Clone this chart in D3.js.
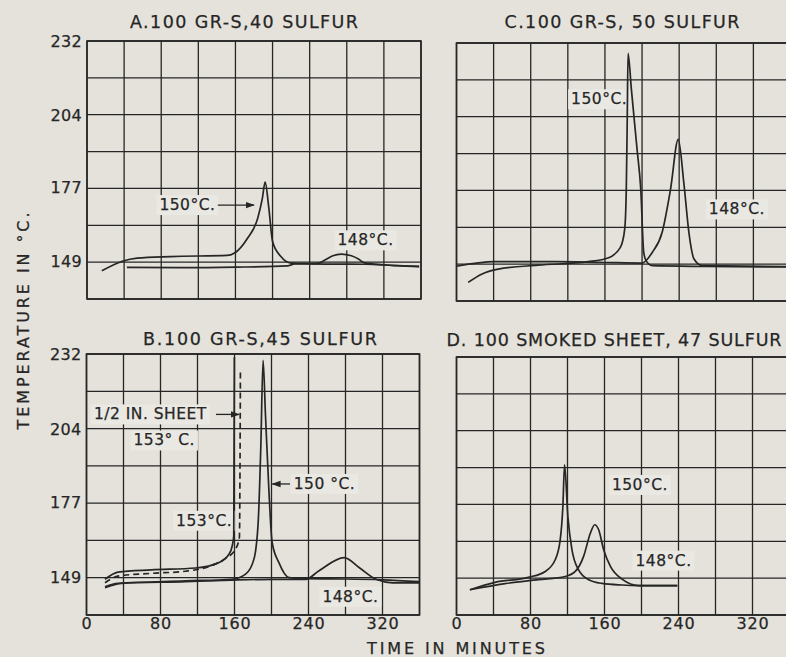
<!DOCTYPE html>
<html>
<head>
<meta charset="utf-8">
<title>cure temperatures</title>
<style>
  body { margin: 0; background: #e4e2da; }
  svg { display: block; }
  text { font-family: "DejaVu Sans", sans-serif; fill: #262626; stroke: #262626; stroke-width: 0.25; }
</style>
</head>
<body>
<script src="https://cdn.jsdelivr.net/npm/d3@7/dist/d3.min.js"></script>
<script>

// axis ticks
var xTicks = [0, 80, 160, 240, 320];
var yTicks = [149, 177, 204, 232];

// A. 100 GR-S, 40 sulfur  -- [minutes, deg C]
var a150 = [[16,145.6],[38,149.2],[54,150.4],[90,151],[151,151.4],[159,152.3],[173,157.9],[184,165.4],[189,172.9],[192,179],
            [196,169.2],[200,156.7],[209,151],[220,148.5],[240,148.2],[300,148.1],[330,147.6],[358,147.2]];
var a148 = [[43,146.9],[100,146.8],[160,147],[216,147.5],[224,148.2],[249,148.4],[256,149.6],[265,151.3],[274,151.9],
            [285,151.3],[293,150],[299,148.6],[320,147.9],[358,147.3]];

// B. 100 GR-S, 45 sulfur
var b153 = [[20,148.3],[34,151],[70,151.8],[118,152.5],[143,154.5],[154,157.6],[157.5,160.7],[159.2,164.5],[159.9,231]];
var b153half = [[20,147],[34,149.5],[70,150.5],[107,151.3],[136,153.5],[150,156],[161,159.5],[165.3,163.9],[166.4,226]];
var b150 = [[20,145.5],[34,146.8],[107,147.7],[157,148.3],[172,150.2],[181,155.8],[185.6,169.5],[188.4,197],[190.9,229.8],
            [193.5,209.4],[197.1,182],[200.7,162],[208,154.5],[219,148.9],[237,148.5],[280,148.4],[320,148.1],[360,147.4]];
var b148 = [[20,145.2],[38,146.8],[107,147.4],[157,148],[201,148.3],[237,148.3],[251,151.4],[278.5,156.4],[295,152.6],
            [313,148.3],[331,147],[360,147]];

// C. 100 GR-S, 50 sulfur
var c150 = [[12.6,142],[27,145.1],[45,147],[88,148.5],[142,149.8],[164,151.3],[176.6,155.2],[181.3,162.1],[183,177.1],
            [184,202.2],[184.9,228.3],[188.5,214.7],[194.6,192.2],[198.6,177.1],[201.8,153.3],[204.3,150.2],[211,148.3],
            [268,148],[357,147.8]];
var c148 = [[0,148.1],[41,149.8],[106,149.8],[160,149.5],[200,149.3],[211,153.3],[221.6,160.8],[230.7,177.1],[239,195.9],
            [245,179.6],[250.5,160.8],[256,150.8],[265,148.3],[357,148]];

// D. 100 smoked sheet, 47 sulfur
var d150 = [[14.5,144.5],[41.6,147.3],[77.8,149.2],[95.9,151.4],[106.7,155.8],[112.1,163.3],[115,175.9],[116.8,191.6],
            [120.4,172.1],[124.8,159.6],[132,152],[142.9,148.3],[157.3,146.9],[179,146.3],[197.1,146.1],[238.7,146.1]];
var d148 = [[14.5,144.5],[52.4,146.8],[88.6,148.3],[117.6,149.5],[128.4,151.4],[137.4,157.1],[144.7,165.8],[149.4,169],
            [153.7,167.1],[159.1,159.6],[166.4,153.3],[179,148.5],[197.1,146.1],[238.7,146.1]];

var ink = "#262626", paper = "#e4e2da", patch = "#eae8e2";

var svg = d3.select("body").append("svg")
    .attr("width", 786)
    .attr("height", 657);

svg.append("rect").attr("width", 786).attr("height", 657).attr("fill", paper);

svg.append("defs").append("marker")
    .attr("id", "head")
    .attr("viewBox", "0 0 10 10")
    .attr("refX", 9).attr("refY", 5)
    .attr("markerWidth", 7).attr("markerHeight", 7)
    .attr("orient", "auto")
  .append("path")
    .attr("d", "M0,1.5 L10,5 L0,8.5 Z")
    .attr("fill", ink);

var panels = [
  {title: "A.100 GR-S,40 SULFUR", tx: 244, ty: 22, tlen: 228,
   left: 87, top: 41, w: 334, h: 258, yAxis: true, xAxis: false,
   series: [{d: a150}, {d: a148}],
   notes: [{t: "150°C.", x: 138.5, y: 170.4, anchor: "end", arrow: [141, 180]},
           {t: "148°C.", x: 270, y: 157.1, anchor: "start"}]},
  {title: "C.100 GR-S, 50 SULFUR", tx: 622, ty: 22, tlen: 235,
   left: 456.5, top: 43, w: 334, h: 258, yAxis: false, xAxis: false,
   series: [{d: c150}, {d: c148}],
   notes: [{t: "150°C.", x: 184, y: 211, anchor: "end"},
           {t: "148°C.", x: 272, y: 169.5, anchor: "start"}]},
  {title: "B.100 GR-S,45 SULFUR", tx: 260, ty: 339, tlen: 234,
   left: 86.5, top: 354, w: 333, h: 261, yAxis: true, xAxis: true,
   series: [{d: b153}, {d: b153half, dash: "6,4"}, {d: b150}, {d: b148}],
   notes: [{t: "1/2 IN. SHEET", x: 8, y: 209.7, anchor: "start", arrow: [140, 165]},
           {t: "153° C.", x: 84, y: 200, anchor: "middle"},
           {t: "150 °C.", x: 224, y: 183.8, anchor: "start", arrow: [220, 201]},
           {t: "153°C.", x: 157.5, y: 170.1, anchor: "end"},
           {t: "148°C.", x: 255, y: 141.8, anchor: "start"}]},
  {title: "D. 100 SMOKED SHEET, 47 SULFUR", tx: 614, ty: 340, tlen: 335,
   left: 456.5, top: 357, w: 333, h: 258, yAxis: false, xAxis: true,
   series: [{d: d150}, {d: d148}],
   notes: [{t: "150°C.", x: 168, y: 184, anchor: "start"},
           {t: "148°C.", x: 193.5, y: 155.5, anchor: "start"}]}
];

panels.forEach(function(p) {
  var x = d3.scaleLinear().domain([0, 360]).range([0, p.w]);
  var y = d3.scaleLinear().domain([135, 232.2]).range([p.h, 0]);

  svg.append("text")
      .attr("x", p.tx).attr("y", p.ty)
      .attr("text-anchor", "middle")
      .attr("dominant-baseline", "central")
      .attr("font-size", 17.5)
      .attr("textLength", p.tlen)
      .attr("lengthAdjust", "spacing")
      .text(p.title);

  var g = svg.append("g")
      .attr("transform", "translate(" + p.left + "," + p.top + ")");

  // grid: 40 min columns, 25 F rows
  g.selectAll(".vg").data(d3.range(0, 361, 40)).enter().append("line")
      .attr("x1", function(d) { return x(d); }).attr("x2", function(d) { return x(d); })
      .attr("y1", 0).attr("y2", p.h)
      .attr("stroke", ink).attr("stroke-width", 1.3);
  g.selectAll(".hg").data(d3.range(8)).enter().append("line")
      .attr("y1", function(i) { return y(135 + i * 97.2 / 7); })
      .attr("y2", function(i) { return y(135 + i * 97.2 / 7); })
      .attr("x1", 0).attr("x2", p.w)
      .attr("stroke", ink).attr("stroke-width", 1.3);
  g.append("rect")
      .attr("width", p.w).attr("height", p.h)
      .attr("fill", "none").attr("stroke", ink).attr("stroke-width", 1.6);

  // labels sit on light patches that hide the grid
  var patches = g.append("g");

  var line = d3.line()
      .x(function(d) { return x(d[0]); })
      .y(function(d) { return y(d[1]); })
      .curve(d3.curveMonotoneX);

  p.series.forEach(function(s) {
    g.append("path")
        .attr("d", line(s.d))
        .attr("fill", "none")
        .attr("stroke", ink)
        .attr("stroke-width", 1.7)
        .attr("stroke-dasharray", s.dash || null);
  });

  p.notes.forEach(function(n) {
    var t = g.append("text")
        .attr("x", x(n.x)).attr("y", y(n.y))
        .attr("text-anchor", n.anchor)
        .attr("dominant-baseline", "central")
        .attr("font-size", 15.5)
        .attr("letter-spacing", 0.5)
        .text(n.t);
    var b = t.node().getBBox();
    patches.append("rect")
        .attr("x", b.x - 3).attr("y", b.y - 1)
        .attr("width", b.width + 6).attr("height", b.height + 2)
        .attr("fill", patch);
    if (n.arrow) {
      g.append("line")
          .attr("x1", x(n.arrow[0])).attr("x2", x(n.arrow[1]))
          .attr("y1", y(n.y)).attr("y2", y(n.y))
          .attr("stroke", ink).attr("stroke-width", 1.3)
          .attr("marker-end", "url(#head)");
    }
  });

  if (p.yAxis) {
    var ya = g.append("g")
        .call(d3.axisLeft(y).tickValues(yTicks).tickSize(0).tickPadding(5));
    ya.select(".domain").remove();
    ya.selectAll("text").attr("font-size", 16).attr("letter-spacing", 0.3)
        .attr("font-family", null).attr("fill", ink);
  }
  if (p.xAxis) {
    var xa = g.append("g")
        .attr("transform", "translate(0," + p.h + ")")
        .call(d3.axisBottom(x).tickValues(xTicks).tickSize(0).tickPadding(3));
    xa.select(".domain").remove();
    xa.selectAll("text").attr("font-size", 16).attr("letter-spacing", 0.8)
        .attr("font-family", null).attr("fill", ink);
  }
});

svg.append("text")
    .attr("x", 456).attr("y", 648)
    .attr("text-anchor", "middle")
    .attr("dominant-baseline", "central")
    .attr("font-size", 16)
    .attr("textLength", 178)
    .attr("lengthAdjust", "spacing")
    .text("TIME IN MINUTES");

svg.append("text")
    .attr("transform", "translate(23,321) rotate(-90)")
    .attr("text-anchor", "middle")
    .attr("dominant-baseline", "central")
    .attr("font-size", 16)
    .attr("textLength", 217)
    .attr("lengthAdjust", "spacing")
    .text("TEMPERATURE IN °C.");

</script>
</body>
</html>
